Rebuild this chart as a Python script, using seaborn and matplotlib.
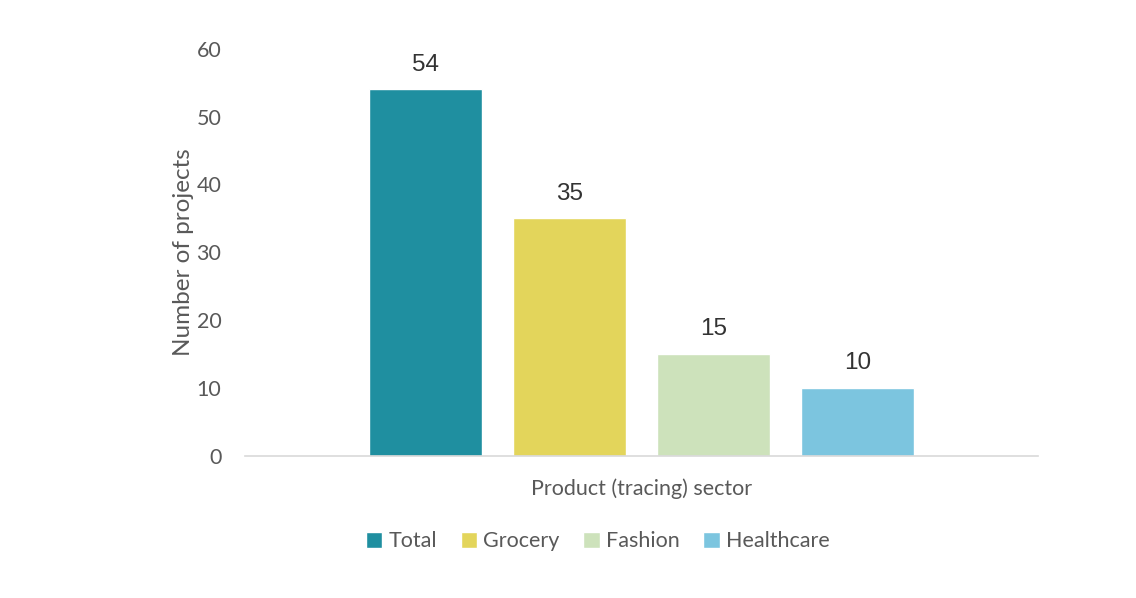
import pandas as pd
import seaborn as sns
import matplotlib.pyplot as plt

sectors = ['Total', 'Grocery', 'Fashion', 'Healthcare']
projects = [54, 35, 15, 10]
colors = ['#1f8fa0', '#e3d55b', '#cde2bb', '#7cc5df']
x_label = 'Product (tracing) sector'
y_label = 'Number of projects'

df = pd.DataFrame({'group': [x_label] * len(sectors), 'sector': sectors, 'projects': projects})

sns.set_style('white')
plt.rcParams['font.family'] = ['Lato', 'DejaVu Sans']

fig = plt.figure(figsize=(11.36, 5.98), dpi=100)
ax = fig.add_axes([0.2157, 0.2375, 0.698, 0.681])

sns.barplot(data=df, x='group', y='projects', hue='sector', hue_order=sectors,
            palette=colors, saturation=1, width=0.726, gap=0.21, ax=ax, legend=True)

for c in ax.containers:
    ax.bar_label(c, padding=10, fontsize=17.5, color='#333333', family='Liberation Sans')

ax.set_ylim(0, 60)
ax.set_xlim(-0.5, 0.5)
ax.set_yticks(range(0, 61, 10))
ax.tick_params(axis='y', labelsize=15.5, labelcolor='#595959', length=0, pad=17)
ax.set_xticks([])
ax.set_xlabel(x_label, fontsize=15.5, color='#595959', labelpad=16)
ax.set_ylabel(y_label, fontsize=17.5, color='#595959', labelpad=2)

for s in ['top', 'right', 'left']:
    ax.spines[s].set_visible(False)
ax.spines['bottom'].set_color('#d9d9d9')
ax.spines['bottom'].set_linewidth(1.2)

leg = ax.legend(loc='center', bbox_to_anchor=(0.445, -0.21), ncol=4, frameon=False,
                fontsize=15.5, handlelength=0.75, handleheight=0.75, handletextpad=0.3,
                columnspacing=1.1)
for t in leg.get_texts():
    t.set_color('#595959')

fig.savefig('out.png', dpi=100)
